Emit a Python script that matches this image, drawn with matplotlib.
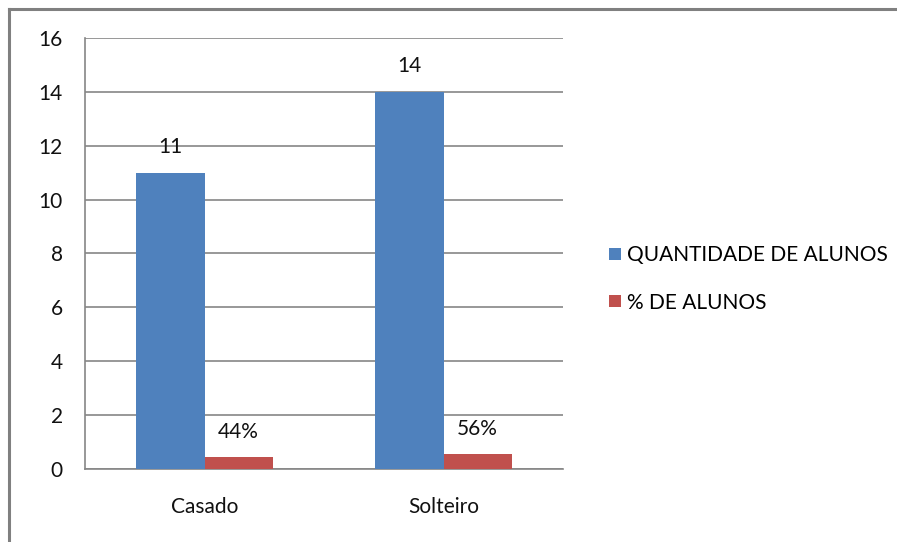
import matplotlib.pyplot as plt
import numpy as np
from matplotlib.lines import Line2D
from matplotlib.patches import Patch

categories = ["Casado", "Solteiro"]
quantidade = [11, 14]
percentual = [0.44, 0.56]
percent_labels = ["44%", "56%"]
series_names = ["QUANTIDADE DE ALUNOS", "% DE ALUNOS"]
yticks = [0, 2, 4, 6, 8, 10, 12, 14, 16]

BLUE = "#4f81bd"
RED = "#c0504d"
GRID = "#868686"
FS = 15

plt.rcParams["font.family"] = ["Lato", "DejaVu Sans"]

fig = plt.figure(figsize=(8.97, 5.42), dpi=100)
ax = fig.add_axes([85 / 897, 1 - 469.3 / 542, (563 - 85) / 897, (469.3 - 37.7) / 542])

x = np.arange(len(categories))
w = 1 / 3.5
ax.bar(x - w / 2, quantidade, w, color=BLUE, zorder=3)
ax.bar(x + w / 2, percentual, w, color=RED, zorder=3)

for xi, v in zip(x, quantidade):
    ax.annotate(str(v), (xi - w / 2, v), xytext=(0, 11), textcoords="offset points",
                ha="center", va="bottom", fontsize=FS, color="#111111")
for xi, v, lab in zip(x, percentual, percent_labels):
    ax.annotate(lab, (xi + w / 2, v), xytext=(0, 11), textcoords="offset points",
                ha="center", va="bottom", fontsize=FS, color="#111111")

ax.set_xlim(-0.5, len(categories) - 0.5)
ax.set_ylim(0, 16)
ax.set_yticks(yticks)
ax.set_xticks(x)
ax.set_xticklabels(categories)
ax.tick_params(axis="both", length=0, labelsize=FS, colors="#111111")
ax.tick_params(axis="y", pad=16)
ax.tick_params(axis="x", pad=20)
ax.yaxis.grid(True, color=GRID, linewidth=1.2, zorder=0)
for s in ["top", "right"]:
    ax.spines[s].set_visible(False)
for s in ["left", "bottom"]:
    ax.spines[s].set_color(GRID)
    ax.spines[s].set_linewidth(1.2)

handles = [Patch(facecolor=BLUE), Patch(facecolor=RED)]
fig.legend(handles, series_names, loc="center left", bbox_to_anchor=(601 / 897, 1 - 279 / 542),
           frameon=False, fontsize=FS, handlelength=0.55, handleheight=0.55,
           handletextpad=0.3, labelspacing=1.3, borderaxespad=0)

# outer chart frame (only top and left edges are visible in the crop)
fig.add_artist(Line2D([8.5 / 897, 1], [1 - 8.5 / 542, 1 - 8.5 / 542], color="#808080", lw=2.2,
                      transform=fig.transFigure))
fig.add_artist(Line2D([8.5 / 897, 8.5 / 897], [0, 1 - 8.5 / 542], color="#808080", lw=2.2,
                      transform=fig.transFigure))

fig.savefig("out.png", dpi=100)
